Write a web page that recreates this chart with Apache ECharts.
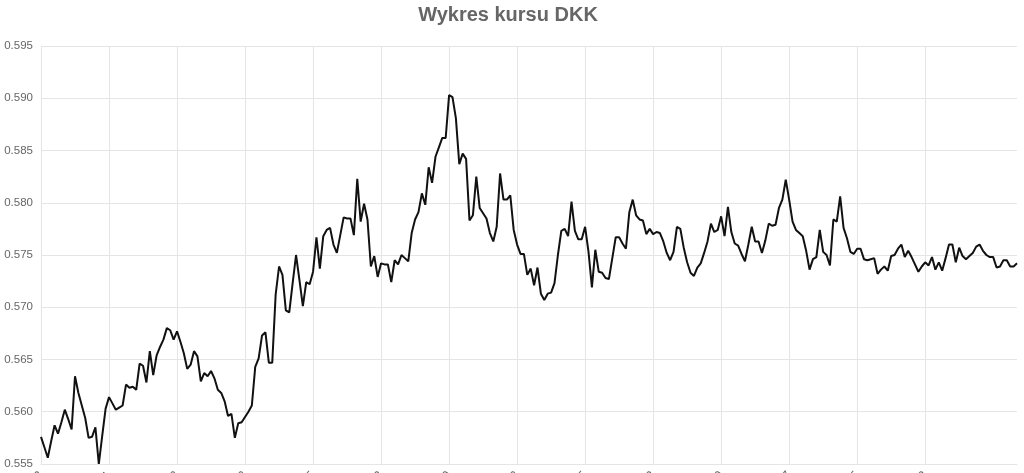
<!DOCTYPE html>
<html>
<head>
<meta charset="utf-8">
<title>Wykres kursu DKK</title>
<script src="https://cdn.jsdelivr.net/npm/echarts@6/dist/echarts.min.js"></script>
<style>
	html, body { margin: 0; padding: 0; background: #fff; }
	#main { width: 1024px; height: 473px; }
</style>
</head>
<body>
<div id="main"></div>
<script>
var chartTitle = 'Wykres kursu DKK';

// kurs DKK
var kursDKK = [
	0.5576, 0.5566, 0.5556, 0.5572, 0.5587, 0.5579, 0.5590, 0.5602, 0.5593, 0.5583,
	0.5634, 0.5618, 0.5606, 0.5594, 0.5575, 0.5576, 0.5585, 0.5550, 0.5577, 0.5603,
	0.5614, 0.5608, 0.5602, 0.5604, 0.5606, 0.5626, 0.5623, 0.5624, 0.5621, 0.5646,
	0.5644, 0.5628, 0.5658, 0.5635, 0.5654, 0.5662, 0.5669, 0.5680, 0.5678, 0.5669,
	0.5677, 0.5667, 0.5656, 0.5641, 0.5645, 0.5658, 0.5653, 0.5629, 0.5637, 0.5634,
	0.5639, 0.5632, 0.5621, 0.5618, 0.5610, 0.5596, 0.5598, 0.5575, 0.5589, 0.5590,
	0.5595, 0.5600, 0.5606, 0.5643, 0.5651, 0.5673, 0.5676, 0.5647, 0.5647, 0.5712,
	0.5739, 0.5731, 0.5697, 0.5695, 0.5723, 0.5750, 0.5726, 0.5701, 0.5724, 0.5722,
	0.5734, 0.5767, 0.5737, 0.5768, 0.5774, 0.5776, 0.5760, 0.5752, 0.5769, 0.5786,
	0.5785, 0.5785, 0.5769, 0.5823, 0.5782, 0.5799, 0.5784, 0.5739, 0.5749, 0.5729,
	0.5742, 0.5741, 0.5741, 0.5724, 0.5745, 0.5741, 0.5750, 0.5747, 0.5744, 0.5771,
	0.5784, 0.5791, 0.5809, 0.5798, 0.5834, 0.5819, 0.5844, 0.5853, 0.5862, 0.5862,
	0.5903, 0.5901, 0.5881, 0.5837, 0.5847, 0.5842, 0.5783, 0.5788, 0.5825, 0.5795,
	0.5790, 0.5785, 0.5771, 0.5763, 0.5777, 0.5828, 0.5803, 0.5803, 0.5807, 0.5774,
	0.5760, 0.5751, 0.5751, 0.5731, 0.5737, 0.5721, 0.5738, 0.5713, 0.5707, 0.5713,
	0.5714, 0.5723, 0.5750, 0.5773, 0.5775, 0.5768, 0.5801, 0.5773, 0.5765, 0.5765,
	0.5777, 0.5753, 0.5719, 0.5755, 0.5734, 0.5733, 0.5728, 0.5727, 0.5747, 0.5767,
	0.5767, 0.5761, 0.5756, 0.5791, 0.5803, 0.5788, 0.5784, 0.5783, 0.5770, 0.5775,
	0.5770, 0.5772, 0.5771, 0.5763, 0.5752, 0.5745, 0.5753, 0.5777, 0.5775, 0.5757,
	0.5743, 0.5733, 0.5730, 0.5738, 0.5742, 0.5752, 0.5763, 0.5780, 0.5772, 0.5774,
	0.5787, 0.5768, 0.5796, 0.5772, 0.5761, 0.5759, 0.5751, 0.5744, 0.5760, 0.5777,
	0.5763, 0.5763, 0.5752, 0.5764, 0.5780, 0.5778, 0.5779, 0.5795, 0.5803, 0.5822,
	0.5803, 0.5782, 0.5774, 0.5771, 0.5768, 0.5754, 0.5736, 0.5746, 0.5748, 0.5774,
	0.5753, 0.5750, 0.5740, 0.5784, 0.5782, 0.5806, 0.5776, 0.5766, 0.5753, 0.5751,
	0.5756, 0.5756, 0.5746, 0.5745, 0.5746, 0.5747, 0.5732, 0.5736, 0.5739, 0.5735,
	0.5749, 0.5750, 0.5756, 0.5760, 0.5748, 0.5754, 0.5748, 0.5741, 0.5734, 0.5739,
	0.5743, 0.5740, 0.5748, 0.5736, 0.5743, 0.5735, 0.5747, 0.5760, 0.5760, 0.5743,
	0.5757, 0.5749, 0.5746, 0.5749, 0.5752, 0.5758, 0.5760, 0.5754, 0.5750, 0.5748,
	0.5748, 0.5738, 0.5739, 0.5745, 0.5745, 0.5739, 0.5739, 0.5742
];

// daty notowan (dni robocze) - etykiety osi X sa i tak prawie calkiem uciete
var dates = [];
var d = new Date(2022, 0, 3);
while (dates.length < kursDKK.length) {
	if (d.getDay() != 0 && d.getDay() != 6) {
		var mm = ('0' + (d.getMonth() + 1)).slice(-2);
		var dd = ('0' + d.getDate()).slice(-2);
		dates.push(d.getFullYear() + '-' + mm + '-' + dd);
	}
	d.setDate(d.getDate() + 1);
}

var yMin = 0.555;
var yMax = 0.595;
var yStep = 0.005;
var labelEvery = 20;
var lastLabel = 260;

var gridColor = '#e5e5e5';
var textColor = '#666';

function showTick(index) {
	return index % labelEvery == 0 && index <= lastLabel;
}

var myChart = echarts.init(document.getElementById('main'));

myChart.setOption({
	animation: false,
	title: {
		text: chartTitle,
		left: 503,
		top: 0,
		textAlign: 'center',
		textStyle: {
			fontFamily: 'Liberation Sans',
			fontSize: 20,
			fontWeight: 'bold',
			color: textColor
		}
	},
	grid: {
		left: 41,
		right: 7,
		top: 46,
		bottom: 9,
		containLabel: false,
		outerBoundsMode: 'none'
	},
	xAxis: {
		type: 'category',
		data: dates,
		boundaryGap: false,
		axisLine: { show: true, lineStyle: { color: gridColor, width: 1 } },
		axisTick: { show: false },
		axisLabel: {
			interval: function (index) { return showTick(index); },
			rotate: 50,
			margin: 9,
			color: textColor,
			fontFamily: 'Liberation Sans',
			fontSize: 12
		},
		splitLine: {
			show: true,
			interval: function (index) { return showTick(index); },
			lineStyle: { color: gridColor, width: 1 }
		}
	},
	yAxis: {
		type: 'value',
		min: yMin,
		max: yMax,
		interval: yStep,
		axisLine: { show: true, lineStyle: { color: gridColor, width: 1 } },
		axisTick: { show: false },
		axisLabel: {
			margin: 8,
			color: textColor,
			fontFamily: 'Liberation Sans',
			fontSize: 11.5,
			formatter: function (v) { return v.toFixed(3); }
		},
		splitLine: {
			show: true,
			lineStyle: { color: gridColor, width: 1 }
		}
	},
	series: [{
		name: 'DKK',
		type: 'line',
		data: kursDKK,
		showSymbol: false,
		smooth: false,
		lineStyle: { color: '#111', width: 2 },
		itemStyle: { color: '#111' }
	}]
});
</script>
</body>
</html>
